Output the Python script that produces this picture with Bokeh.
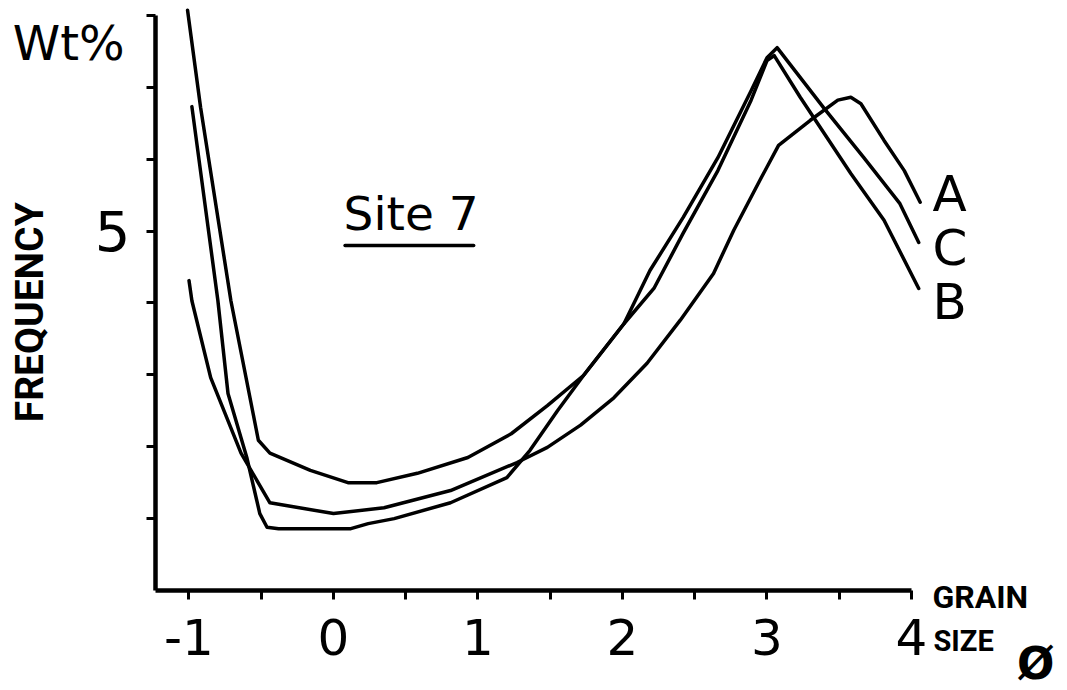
from math import pi
from bokeh.plotting import figure
from bokeh.models import Range1d, FixedTicker, Label
from bokeh.embed import file_html
from bokeh.resources import INLINE

# ---- data (grain size phi vs frequency wt%) ----
A_x = [-1.00, -0.98, -0.85, -0.64, -0.44, 0.00, 0.35, 0.81, 1.27, 1.48, 1.71, 1.94,
       2.17, 2.40, 2.63, 2.77, 2.96, 3.08, 3.30, 3.49, 3.58, 3.65, 3.81, 3.95, 4.06]
A_y = [4.31, 4.03, 2.96, 1.91, 1.22, 1.07, 1.15, 1.39, 1.78, 1.99, 2.30, 2.68,
       3.16, 3.76, 4.41, 5.01, 5.74, 6.19, 6.54, 6.82, 6.86, 6.77, 6.26, 5.84, 5.40]

B_x = [-0.98, -0.80, -0.73, -0.60, -0.51, -0.46, -0.38, 0.12, 0.24, 0.42, 0.81, 1.20,
       1.36, 1.55, 1.73, 2.01, 2.22, 2.42, 2.66, 2.89, 3.00, 3.05, 3.23, 3.58, 3.81, 4.05]
B_y = [6.73, 4.03, 2.74, 1.85, 1.07, 0.88, 0.86, 0.86, 0.93, 1.00, 1.22, 1.57,
       1.95, 2.50, 2.99, 3.71, 4.21, 4.97, 5.84, 6.82, 7.37, 7.44, 6.86, 5.80, 5.15, 4.20]

C_x = [-1.01, -0.92, -0.71, -0.52, -0.44, -0.16, 0.10, 0.30, 0.58, 0.93, 1.23, 1.48,
       1.73, 2.01, 2.19, 2.42, 2.66, 2.89, 3.00, 3.07, 3.39, 3.67, 3.92, 4.05]
C_y = [8.07, 6.72, 4.03, 2.09, 1.91, 1.67, 1.50, 1.50, 1.63, 1.85, 2.18, 2.57,
       2.99, 3.71, 4.45, 5.19, 6.02, 6.95, 7.41, 7.55, 6.72, 6.02, 5.38, 4.84]

series_names = ["A", "C", "B"]
x_ticks = [-1, 0, 1, 2, 3, 4]
x_minor_ticks = [-0.5, 0.5, 1.5, 2.5, 3.5]
x_tick_labels = ["-1", "0", "1", "2", "3", "4"]
y_ticks = [1, 2, 3, 4, 5, 6, 7, 8]
y_tick_labels = ["", "", "", "", "5", "", "", ""]

# ---- figure: frame spans the whole canvas, axes drawn at fixed locations ----
X0, X1 = -2.3045, 5.0796
Y0, Y1 = -1.391, 8.206
AX_X = -1.232   # where the y axis stands
p = figure(width=1067, height=690, output_backend="svg", toolbar_location=None,
           x_range=Range1d(X0, X1), y_range=Range1d(Y0, Y1), min_border=0)
p.min_border_left = p.min_border_right = p.min_border_top = p.min_border_bottom = 0
p.outline_line_color = None
p.xgrid.visible = False
p.ygrid.visible = False
p.background_fill_color = "white"
p.border_fill_color = "white"

for ax in (p.xaxis[0], p.yaxis[0]):
    ax.axis_line_width = 4.5
    ax.axis_line_color = "black"
    ax.major_tick_line_width = 3
    ax.major_tick_line_color = "black"
    ax.major_tick_in = 0
    ax.major_tick_out = 9
    ax.major_label_text_font = "DejaVu Sans"
    ax.major_label_text_color = "black"

p.xaxis.fixed_location = 0
p.xaxis.ticker = FixedTicker(ticks=x_ticks, minor_ticks=x_minor_ticks)
p.xaxis.major_label_overrides = {t: l for t, l in zip(x_ticks, x_tick_labels)}
p.xaxis.major_label_text_font_size = "50px"
p.xaxis.minor_tick_in = 0
p.xaxis.minor_tick_out = 9
p.xaxis.minor_tick_line_width = 3
p.xaxis.minor_tick_line_color = "black"
p.xaxis.bounds = (AX_X, 4)
p.xaxis.major_label_standoff = 20

p.yaxis.fixed_location = AX_X
p.yaxis.ticker = FixedTicker(ticks=y_ticks, minor_ticks=[])
p.yaxis.major_label_overrides = {t: l for t, l in zip(y_ticks, y_tick_labels)}
p.yaxis.major_label_text_font_size = "56px"
p.yaxis.bounds = (0, 8)
p.yaxis.major_label_standoff = 16

# curves
for xs, ys in ((A_x, A_y), (B_x, B_y), (C_x, C_y)):
    p.line(xs, ys, line_color="black", line_width=3.5, line_join="round", line_cap="round")

# underline under "Site 7"
p.segment(x0=[0.08], y0=[4.80], x1=[0.97], y1=[4.80], line_color="black",
          line_width=3.5, line_cap="round")

def lab(x, y, text, size, font="DejaVu Sans", style="normal", align="left",
        baseline="alphabetic", angle=0.0):
    p.add_layout(Label(x=x, y=y, text=text, text_font=font, text_font_size=size,
                       text_font_style=style, text_align=align, text_baseline=baseline,
                       text_color="black", angle=angle))

lab(-2.22, 7.61, "Wt%", "48px")
lab(-2.10, 3.87, "FREQUENCY", "39px", font="Roboto", style="bold",
    align="center", baseline="middle", angle=pi / 2)
lab(0.07, 5.25, "Site 7", "47px")
lab(4.145, 5.51, series_names[0], "50px")
lab(4.145, 4.77, series_names[1], "50px")
lab(4.145, 4.01, series_names[2], "50px")
lab(4.145, -0.09, "GRAIN", "32px", font="Roboto", style="bold")
lab(4.152, -0.70, "SIZE", "29px", font="Roboto", style="bold")
lab(4.86, -1.02, "Ø", "44px", style="bold", align="center")

open("out.html", "w").write(file_html(p, INLINE))
